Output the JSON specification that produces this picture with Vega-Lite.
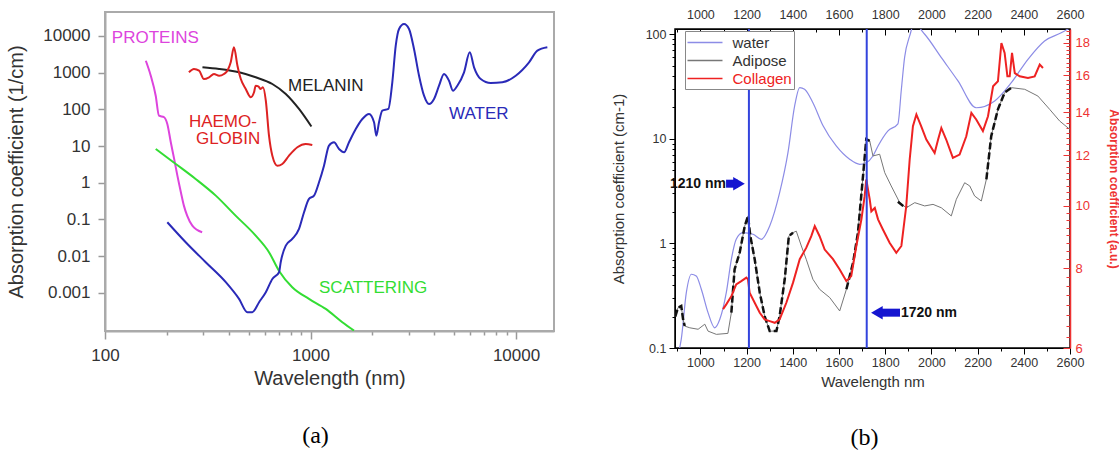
{
  "$schema": "https://vega.github.io/schema/vega-lite/v6.json",
  "padding": {"left": 5, "top": 4, "right": 0, "bottom": 0},
  "background": "white",
  "config": {"font": "Liberation Sans", "axis": {"grid": false}},
  "spacing": 55,
  "datasets": {
    "a": [
      {"s":"P","x":158,"y":2120},{"s":"P","x":167,"y":828},{"s":"P","x":176.5,"y":236},{"s":"P","x":183,"y":67.3},{"s":"P","x":194,"y":61},{"s":"P","x":201,"y":40},{"s":"P","x":209,"y":12.7},{"s":"P","x":217,"y":4.46},{"s":"P","x":225,"y":1.56},{"s":"P","x":234,"y":0.55},{"s":"P","x":242,"y":0.238},{"s":"P","x":251,"y":0.127},{"s":"P","x":266,"y":0.0678},{"s":"P","x":297,"y":0.0448},
      {"s":"M","x":298,"y":1403},{"s":"M","x":359,"y":1262},{"s":"M","x":449,"y":1025},{"s":"M","x":541,"y":750},{"s":"M","x":652,"y":492},{"s":"M","x":758,"y":263},{"s":"M","x":879,"y":102.6},{"s":"M","x":1010,"y":34},
      {"s":"H","x":256,"y":1025},{"s":"H","x":271,"y":1262},{"s":"H","x":287,"y":1134},{"s":"H","x":303,"y":673},{"s":"H","x":321,"y":750},{"s":"H","x":339,"y":922},{"s":"H","x":359,"y":828},{"s":"H","x":379,"y":922},{"s":"H","x":394,"y":1134},{"s":"H","x":409,"y":1920},{"s":"H","x":424,"y":4923},{"s":"H","x":441,"y":1552},{"s":"H","x":458,"y":673},{"s":"H","x":484,"y":360},{"s":"H","x":512,"y":214},{"s":"H","x":531,"y":292},{"s":"H","x":541,"y":443},{"s":"H","x":557,"y":426},{"s":"H","x":572,"y":360},{"s":"H","x":587,"y":400},{"s":"H","x":606,"y":173},{"s":"H","x":628,"y":19.2},{"s":"H","x":652,"y":5.47},{"s":"H","x":690,"y":2.92},{"s":"H","x":729,"y":3.25},{"s":"H","x":786,"y":5.47},{"s":"H","x":863,"y":9.27},{"s":"H","x":948,"y":11.4},{"s":"H","x":1020,"y":10.7},
      {"s":"S","x":176.5,"y":8.34},{"s":"S","x":221,"y":3.25},{"s":"S","x":276,"y":1.27},{"s":"S","x":346,"y":0.446},{"s":"S","x":432,"y":0.127},{"s":"S","x":541,"y":0.0362},{"s":"S","x":628,"y":0.0128},{"s":"S","x":703,"y":0.00395},{"s":"S","x":815,"y":0.00142},{"s":"S","x":983,"y":0.000682},{"s":"S","x":1186,"y":0.000364},{"s":"S","x":1428,"y":0.000158},{"s":"S","x":1628,"y":0.0000933},
      {"s":"W","x":201,"y":0.0839},{"s":"W","x":247,"y":0.0239},{"s":"W","x":309,"y":0.00682},{"s":"W","x":387,"y":0.00195},{"s":"W","x":449,"y":0.000682},{"s":"W","x":493,"y":0.000296},{"s":"W","x":521,"y":0.000296},{"s":"W","x":562,"y":0.000555},{"s":"W","x":606,"y":0.00104},{"s":"W","x":652,"y":0.00239},{"s":"W","x":703,"y":0.00364},{"s":"W","x":716,"y":0.00682},{"s":"W","x":758,"y":0.0193},{"s":"W","x":815,"y":0.0294},{"s":"W","x":879,"y":0.0551},{"s":"W","x":930,"y":0.157},{"s":"W","x":983,"y":0.362},{"s":"W","x":1040,"y":0.446},{"s":"W","x":1100,"y":1.03},{"s":"W","x":1163,"y":2.92},{"s":"W","x":1230,"y":10.3},{"s":"W","x":1301,"y":12.7},{"s":"W","x":1376,"y":8.34},{"s":"W","x":1456,"y":6.78},{"s":"W","x":1539,"y":12.7},{"s":"W","x":1660,"y":29.2},{"s":"W","x":1787,"y":54.7},{"s":"W","x":1927,"y":75},{"s":"W","x":2037,"y":44.6},{"s":"W","x":2091,"y":19.2},{"s":"W","x":2154,"y":44.6},{"s":"W","x":2236,"y":92.2},{"s":"W","x":2391,"y":102.6},{"s":"W","x":2500,"y":547},{"s":"W","x":2598,"y":5445},{"s":"W","x":2696,"y":15520},{"s":"W","x":2851,"y":21230},{"s":"W","x":3015,"y":15520},{"s":"W","x":3188,"y":4424},{"s":"W","x":3373,"y":828},{"s":"W","x":3567,"y":236},{"s":"W","x":3772,"y":140},{"s":"W","x":3990,"y":192},{"s":"W","x":4220,"y":442},{"s":"W","x":4462,"y":922},{"s":"W","x":4720,"y":605},{"s":"W","x":4935,"y":323},{"s":"W","x":5181,"y":442},{"s":"W","x":5585,"y":1025},{"s":"W","x":5954,"y":3597},{"s":"W","x":6247,"y":1403},{"s":"W","x":6733,"y":673},{"s":"W","x":7532,"y":524},{"s":"W","x":8578,"y":547},{"s":"W","x":9965,"y":828},{"s":"W","x":11570,"y":1920},{"s":"W","x":12700,"y":3977},{"s":"W","x":14200,"y":4923}
    ],
    "alab": [
      {"s":"P","t":"PROTEINS","x":108,"y":8820},
      {"s":"M","t":"MELANIN","x":777,"y":443},
      {"s":"H","t":"HAEMO-","x":256,"y":45.4},
      {"s":"H","t":"GLOBIN","x":277,"y":15.6},
      {"s":"S","t":"SCATTERING","x":1100,"y":0.00136},
      {"s":"W","t":"WATER","x":4720,"y":75}
    ],
    "b": [
      {"s":"water","x":910,"y":0.1},{"s":"water","x":917,"y":0.121},{"s":"water","x":939,"y":0.338},{"s":"water","x":961,"y":0.507},{"s":"water","x":982,"y":0.488},{"s":"water","x":1004,"y":0.364},{"s":"water","x":1033,"y":0.218},{"s":"water","x":1062,"y":0.156},{"s":"water","x":1084,"y":0.188},{"s":"water","x":1112,"y":0.338},{"s":"water","x":1134,"y":0.705},{"s":"water","x":1155,"y":1.094},{"s":"water","x":1184,"y":1.266},{"s":"water","x":1228,"y":1.222},{"s":"water","x":1264,"y":1.094},{"s":"water","x":1300,"y":1.466},{"s":"water","x":1343,"y":3.05},{"s":"water","x":1379,"y":7.36},{"s":"water","x":1408,"y":20.6},{"s":"water","x":1430,"y":30.8},{"s":"water","x":1451,"y":29.7},{"s":"water","x":1487,"y":22.1},{"s":"water","x":1531,"y":13.3},{"s":"water","x":1588,"y":8.53},{"s":"water","x":1646,"y":6.37},{"s":"water","x":1690,"y":5.7},{"s":"water","x":1718,"y":5.91},{"s":"water","x":1747,"y":6.85},{"s":"water","x":1769,"y":8.53},{"s":"water","x":1812,"y":11.9},{"s":"water","x":1855,"y":13.9},{"s":"water","x":1870,"y":29.7},{"s":"water","x":1884,"y":60},{"s":"water","x":1906,"y":96.1},{"s":"water","x":1925,"y":125},{"s":"water","x":1971,"y":99.8},{"s":"water","x":2043,"y":59.6},{"s":"water","x":2115,"y":35.7},{"s":"water","x":2194,"y":19.8},{"s":"water","x":2274,"y":23},{"s":"water","x":2346,"y":34.4},{"s":"water","x":2418,"y":57.5},{"s":"water","x":2490,"y":86.1},{"s":"water","x":2562,"y":103},{"s":"water","x":2600,"y":115},
      {"s":"Adipose","x":891,"y":0.2},{"s":"Adipose","x":903,"y":0.243},{"s":"Adipose","x":917,"y":0.252},{"s":"Adipose","x":925,"y":0.188},{"s":"Adipose","x":932,"y":0.162},{"s":"Adipose","x":954,"y":0.156},{"s":"Adipose","x":990,"y":0.151},{"s":"Adipose","x":1019,"y":0.169},{"s":"Adipose","x":1033,"y":0.145},{"s":"Adipose","x":1069,"y":0.135},{"s":"Adipose","x":1119,"y":0.138},{"s":"Adipose","x":1134,"y":0.218},{"s":"Adipose","x":1148,"y":0.565},{"s":"Adipose","x":1170,"y":0.815},{"s":"Adipose","x":1192,"y":1.466},{"s":"Adipose","x":1206,"y":1.83},{"s":"Adipose","x":1216,"y":1.18},{"s":"Adipose","x":1235,"y":0.705},{"s":"Adipose","x":1257,"y":0.338},{"s":"Adipose","x":1278,"y":0.202},{"s":"Adipose","x":1300,"y":0.145},{"s":"Adipose","x":1329,"y":0.145},{"s":"Adipose","x":1343,"y":0.202},{"s":"Adipose","x":1365,"y":0.454},{"s":"Adipose","x":1383,"y":1.18},{"s":"Adipose","x":1401,"y":1.266},{"s":"Adipose","x":1415,"y":1.31},{"s":"Adipose","x":1437,"y":0.944},{"s":"Adipose","x":1458,"y":0.705},{"s":"Adipose","x":1487,"y":0.454},{"s":"Adipose","x":1516,"y":0.364},{"s":"Adipose","x":1560,"y":0.303},{"s":"Adipose","x":1603,"y":0.226},{"s":"Adipose","x":1632,"y":0.364},{"s":"Adipose","x":1661,"y":0.654},{"s":"Adipose","x":1682,"y":1.266},{"s":"Adipose","x":1704,"y":4.41},{"s":"Adipose","x":1718,"y":9.89},{"s":"Adipose","x":1733,"y":9.53},{"s":"Adipose","x":1747,"y":6.85},{"s":"Adipose","x":1776,"y":7.11},{"s":"Adipose","x":1798,"y":4.74},{"s":"Adipose","x":1826,"y":3.54},{"s":"Adipose","x":1863,"y":2.45},{"s":"Adipose","x":1891,"y":2.19},{"s":"Adipose","x":1928,"y":2.45},{"s":"Adipose","x":1971,"y":2.28},{"s":"Adipose","x":2007,"y":2.36},{"s":"Adipose","x":2043,"y":2.19},{"s":"Adipose","x":2086,"y":1.83},{"s":"Adipose","x":2108,"y":2.64},{"s":"Adipose","x":2144,"y":3.8},{"s":"Adipose","x":2166,"y":3.54},{"s":"Adipose","x":2187,"y":2.84},{"s":"Adipose","x":2216,"y":2.54},{"s":"Adipose","x":2238,"y":4.1},{"s":"Adipose","x":2259,"y":10.6},{"s":"Adipose","x":2288,"y":19.1},{"s":"Adipose","x":2317,"y":27.6},{"s":"Adipose","x":2346,"y":30.8},{"s":"Adipose","x":2404,"y":29.7},{"s":"Adipose","x":2461,"y":25.6},{"s":"Adipose","x":2512,"y":19.1},{"s":"Adipose","x":2555,"y":14.8},{"s":"Adipose","x":2599,"y":12.3}
    ],
    "dash": [
      {"g":1,"x":891,"y":0.2},{"g":1,"x":903,"y":0.243},{"g":1,"x":917,"y":0.252},{"g":1,"x":925,"y":0.188},{"g":1,"x":932,"y":0.162},
      {"g":2,"x":1134,"y":0.218},{"g":2,"x":1148,"y":0.565},{"g":2,"x":1170,"y":0.815},{"g":2,"x":1192,"y":1.466},{"g":2,"x":1206,"y":1.83},{"g":2,"x":1216,"y":1.18},{"g":2,"x":1235,"y":0.705},{"g":2,"x":1257,"y":0.338},{"g":2,"x":1278,"y":0.202},{"g":2,"x":1300,"y":0.145},{"g":2,"x":1329,"y":0.145},{"g":2,"x":1343,"y":0.202},{"g":2,"x":1365,"y":0.454},{"g":2,"x":1383,"y":1.18},{"g":2,"x":1401,"y":1.266},
      {"g":3,"x":1632,"y":0.364},{"g":3,"x":1661,"y":0.654},{"g":3,"x":1682,"y":1.266},{"g":3,"x":1704,"y":4.41},{"g":3,"x":1718,"y":9.89},{"g":3,"x":1733,"y":9.53},
      {"g":4,"x":1855,"y":2.5},{"g":4,"x":1875,"y":2.3},{"g":4,"x":1895,"y":2.2},
      {"g":5,"x":2238,"y":4.1},{"g":5,"x":2259,"y":10.6},{"g":5,"x":2288,"y":19.1},{"g":5,"x":2317,"y":27.6},{"g":5,"x":2346,"y":30.8}
    ],
    "col": [
      {"s":"Collagen","x":1098,"y":6.9},{"s":"Collagen","x":1112,"y":7.02},{"s":"Collagen","x":1134,"y":7.23},{"s":"Collagen","x":1155,"y":7.54},{"s":"Collagen","x":1177,"y":7.63},{"s":"Collagen","x":1199,"y":7.73},{"s":"Collagen","x":1206,"y":7.68},{"s":"Collagen","x":1213,"y":7.32},{"s":"Collagen","x":1235,"y":7.06},{"s":"Collagen","x":1257,"y":6.81},{"s":"Collagen","x":1278,"y":6.65},{"s":"Collagen","x":1300,"y":6.61},{"s":"Collagen","x":1322,"y":6.57},{"s":"Collagen","x":1343,"y":6.65},{"s":"Collagen","x":1372,"y":7.06},{"s":"Collagen","x":1401,"y":7.59},{"s":"Collagen","x":1430,"y":8.26},{"s":"Collagen","x":1458,"y":8.6},{"s":"Collagen","x":1480,"y":8.97},{"s":"Collagen","x":1495,"y":9.3},{"s":"Collagen","x":1516,"y":8.97},{"s":"Collagen","x":1538,"y":8.55},{"s":"Collagen","x":1574,"y":8.26},{"s":"Collagen","x":1603,"y":7.96},{"s":"Collagen","x":1632,"y":7.63},{"s":"Collagen","x":1653,"y":7.77},{"s":"Collagen","x":1675,"y":8.66},{"s":"Collagen","x":1697,"y":9.53},{"s":"Collagen","x":1711,"y":10.36},{"s":"Collagen","x":1718,"y":11},{"s":"Collagen","x":1733,"y":10.24},{"s":"Collagen","x":1740,"y":9.81},{"s":"Collagen","x":1755,"y":9.93},{"s":"Collagen","x":1769,"y":9.53},{"s":"Collagen","x":1790,"y":9.19},{"s":"Collagen","x":1819,"y":8.76},{"s":"Collagen","x":1848,"y":8.45},{"s":"Collagen","x":1870,"y":8.66},{"s":"Collagen","x":1891,"y":9.99},{"s":"Collagen","x":1906,"y":11.82},{"s":"Collagen","x":1920,"y":13.32},{"s":"Collagen","x":1935,"y":13.9},{"s":"Collagen","x":1956,"y":13.32},{"s":"Collagen","x":1978,"y":12.7},{"s":"Collagen","x":2014,"y":12.1},{"s":"Collagen","x":2029,"y":12.7},{"s":"Collagen","x":2043,"y":13.24},{"s":"Collagen","x":2064,"y":12.7},{"s":"Collagen","x":2093,"y":11.89},{"s":"Collagen","x":2122,"y":12.03},{"s":"Collagen","x":2151,"y":12.85},{"s":"Collagen","x":2173,"y":13.98},{"s":"Collagen","x":2194,"y":13.65},{"s":"Collagen","x":2223,"y":13.09},{"s":"Collagen","x":2245,"y":13.81},{"s":"Collagen","x":2267,"y":15.38},{"s":"Collagen","x":2288,"y":15.66},{"s":"Collagen","x":2303,"y":17.97},{"s":"Collagen","x":2317,"y":17.34},{"s":"Collagen","x":2329,"y":15.94},{"s":"Collagen","x":2339,"y":15.94},{"s":"Collagen","x":2349,"y":17.34},{"s":"Collagen","x":2361,"y":16.13},{"s":"Collagen","x":2382,"y":15.94},{"s":"Collagen","x":2418,"y":15.85},{"s":"Collagen","x":2447,"y":15.94},{"s":"Collagen","x":2469,"y":16.63},{"s":"Collagen","x":2483,"y":16.43}
    ],
    "vl": [{"x":1210},{"x":1720}],
    "arr": [{"d":"r","x":1111,"x2":1162,"tip":1167,"y":3.72},{"d":"l","x":1777,"x2":1864,"tip":1764,"y":0.2176}],
    "blab": [{"t":"1210 nm","x":868,"y":3.72},{"t":"1720 nm","x":1868,"y":0.2176}]
  },
  "hconcat": [
    {
      "width": 449,
      "height": 319,
      "view": {"stroke": "#aaaaaa", "strokeWidth": 2},
      "title": {"text": "(a)", "orient": "bottom", "frame": "group", "anchor": "middle", "dx": -14, "offset": 36, "font": "Liberation Serif", "fontSize": 24, "fontWeight": "normal", "color": "#000"},
      "encoding": {
        "x": {"field": "x", "type": "quantitative",
          "scale": {"type": "log", "domain": [100, 15300], "nice": false},
          "axis": {"values": [100,200,300,400,500,600,700,800,900,1000,2000,3000,4000,5000,6000,7000,8000,9000,10000],
            "labelExpr": "datum.value == 100 || datum.value == 1000 || datum.value == 10000 ? format(datum.value, 'd') : ''",
            "tickSize": {"condition": {"test": "datum.value == 100 || datum.value == 1000 || datum.value == 10000", "value": 8}, "value": 4},
            "labelFlush": false, "labelOverlap": false, "labelFontSize": 17, "labelColor": "#333", "labelPadding": 8,
            "domainColor": "#aaaaaa", "domainWidth": 2, "tickColor": "#999999", "tickWidth": 1.5,
            "title": "Wavelength (nm)", "titleFontSize": 20, "titleFontWeight": "normal", "titleColor": "#333", "titlePadding": 5}},
        "y": {"field": "y", "type": "quantitative",
          "scale": {"type": "log", "domain": [0.000091, 45100], "nice": false},
          "axis": {"values": [0.001,0.01,0.1,1,10,100,1000,10000],
            "labelExpr": "format(datum.value, '~g')", "labelOverlap": false, "labelFontSize": 17, "labelColor": "#333", "labelPadding": 8,
            "tickSize": 7, "domainColor": "#aaaaaa", "domainWidth": 2, "tickColor": "#999999", "tickWidth": 1.5,
            "title": "Absorption coefficient (1/cm)", "titleFontSize": 20, "titleFontWeight": "normal", "titleColor": "#333", "titlePadding": 16}},
        "color": {"field": "s", "type": "nominal", "scale": {"domain": ["P","M","H","S","W"], "range": ["#dd44dd","#222222","#dd2222","#33dd33","#2a2ab8"]}, "legend": null}
      },
      "layer": [
        {"data": {"name": "a"}, "mark": {"type": "line", "strokeWidth": 2, "clip": true, "interpolate": "monotone"}},
        {"data": {"name": "alab"}, "mark": {"type": "text", "align": "left", "baseline": "middle", "fontSize": 17, "font": "Liberation Sans"}, "encoding": {"text": {"field": "t"}}}
      ]
    },
    {
      "spacing": -10,
      "resolve": {"scale": {"color": "independent"}, "legend": {"color": "independent"}},
      "vconcat": [
        {
          "width": 395,
          "height": 1,
          "view": {"stroke": "#ffffff", "strokeWidth": 1},
          "data": {"values": []},
          "mark": {"type": "point"},
          "encoding": {}
        },
        {
          "width": 395,
          "height": 319,
          "view": {"stroke": "#000000", "strokeWidth": 1.5},
          "title": {"text": "(b)", "orient": "bottom", "frame": "group", "anchor": "middle", "dx": -8, "offset": 36, "font": "Liberation Serif", "fontSize": 24, "fontWeight": "normal", "color": "#000"},
          "layer": [
            {
              "encoding": {
                "x": {"field": "x", "type": "quantitative",
                  "scale": {"domain": [890, 2600], "nice": false, "zero": false},
                  "axis": {"orient": "bottom", "values": [900,1000,1100,1200,1300,1400,1500,1600,1700,1800,1900,2000,2100,2200,2300,2400,2500,2600],
                    "labelExpr": "datum.value % 200 == 0 ? format(datum.value, 'd') : ''",
                    "tickSize": {"condition": {"test": "datum.value % 200 == 0", "value": 6}, "value": 3},
                    "labelFlush": false, "labelOverlap": false, "labelFontSize": 12.5, "labelColor": "#333", "labelPadding": 2,
                    "domainColor": "#000", "tickColor": "#000",
                    "title": "Wavelength nm", "titleFontSize": 15, "titleFontWeight": "normal", "titleColor": "#333", "titlePadding": 6}},
                "y": {"field": "y", "type": "quantitative",
                  "scale": {"type": "log", "domain": [0.1, 112], "nice": false},
                  "axis": {"values": [0.1,0.2,0.3,0.4,0.5,0.6,0.7,0.8,0.9,1,2,3,4,5,6,7,8,9,10,20,30,40,50,60,70,80,90,100],
                    "labelExpr": "datum.value == 0.1 || datum.value == 1 || datum.value == 10 || datum.value == 100 ? format(datum.value, '~g') : ''",
                    "tickSize": {"condition": {"test": "datum.value == 0.1 || datum.value == 1 || datum.value == 10 || datum.value == 100", "value": 6}, "value": 3},
                    "labelOverlap": false, "labelFontSize": 12.5, "labelColor": "#333", "labelPadding": 3,
                    "domainColor": "#000", "tickColor": "#000",
                    "title": "Absorption coefficient (cm-1)", "titleFontSize": 15, "titleFontWeight": "normal", "titleColor": "#333", "titlePadding": 19}}
              },
              "layer": [
                {"data": {"name": "b"}, "transform": [{"filter": "datum.s == 'water'"}], "mark": {"type": "line", "strokeWidth": 1.2, "clip": true, "interpolate": "monotone"},
                 "encoding": {"color": {"field": "s", "type": "nominal", "scale": {"domain": ["water","Adipose","Collagen"], "range": ["#8c8ce6","#777777","#ee2222"]},
                   "legend": {"orient": "none", "legendX": 10, "legendY": 2, "title": null, "symbolType": "M-2,0H2", "symbolSize": 306, "symbolStrokeWidth": 1.5, "symbolOffset": 8.5, "labelFontSize": 15, "labelFont": "Liberation Sans", "labelColor": "#333", "strokeColor": "#888888", "fillColor": "#ffffff", "padding": 2, "rowPadding": 0, "labelOffset": 18,
                     "encode": {"labels": {"update": {"fill": {"signal": "datum.label == 'Collagen' ? '#ee2222' : '#333333'"}}}}}}}},
                {"data": {"name": "b"}, "transform": [{"filter": "datum.s == 'Adipose'"}], "mark": {"type": "line", "strokeWidth": 1, "clip": true},
                 "encoding": {"color": {"field": "s", "type": "nominal"}}},
                {"data": {"name": "dash"}, "mark": {"type": "line", "strokeWidth": 2.5, "strokeDash": [7, 3], "color": "#111111", "clip": true},
                 "encoding": {"detail": {"field": "g", "type": "nominal"}}},
                {"data": {"name": "arr"}, "mark": {"type": "rule", "color": "#1515d0", "strokeWidth": 8}, "encoding": {"x2": {"field": "x2"}}},
                {"data": {"name": "arr"}, "mark": {"type": "point", "filled": true, "color": "#1515d0", "opacity": 1, "size": 180}, "encoding": {"x": {"field": "tip", "type": "quantitative"}, "shape": {"field": "d", "type": "nominal", "scale": {"domain": ["r","l"], "range": ["triangle-right","triangle-left"]}, "legend": null}}},
                {"data": {"name": "blab"}, "mark": {"type": "text", "align": "left", "baseline": "middle", "fontSize": 14, "fontWeight": "bold", "color": "#111111"}, "encoding": {"text": {"field": "t"}}}
              ]
            },
            {
              "data": {"name": "col"},
              "mark": {"type": "line", "strokeWidth": 2, "clip": true},
              "encoding": {
                "x": {"field": "x", "type": "quantitative",
                  "scale": {"domain": [890, 2600], "nice": false, "zero": false},
                  "axis": {"orient": "top", "values": [900,1000,1100,1200,1300,1400,1500,1600,1700,1800,1900,2000,2100,2200,2300,2400,2500,2600],
                    "labelExpr": "datum.value % 200 == 0 ? format(datum.value, 'd') : ''",
                    "tickSize": {"condition": {"test": "datum.value % 200 == 0", "value": -6}, "value": -3},
                    "labelFlush": false, "labelOverlap": false, "labelFontSize": 12.5, "labelColor": "#333", "labelPadding": 14,
                    "domainColor": "#000", "tickColor": "#000", "title": null}},
                "y": {"field": "y", "type": "quantitative",
                  "scale": {"type": "log", "domain": [6, 18.9], "nice": false},
                  "axis": {"orient": "right", "values": [6,6.25,6.5,6.75,7,7.25,7.5,7.75,8,8.25,8.5,8.75,9,9.25,9.5,9.75,10,10.25,10.5,10.75,11,11.25,11.5,11.75,12,12.25,12.5,12.75,13,13.25,13.5,13.75,14,14.25,14.5,14.75,15,15.25,15.5,15.75,16,16.25,16.5,16.75,17,17.25,17.5,17.75,18,18.25,18.5,18.75],
                    "labelExpr": "datum.value % 2 == 0 ? format(datum.value, 'd') : ''",
                    "tickSize": {"condition": {"test": "datum.value % 2 == 0", "value": -7}, "value": -4},
                    "labelOverlap": false, "labelFontSize": 13, "labelColor": "#ee3333", "labelPadding": 12,
                    "domainColor": "#ee3333", "domainWidth": 1.5, "tickColor": "#ee3333",
                    "title": "Absorption coefficient (a.u.)", "titleFontSize": 12, "titleFontWeight": "bold", "titleColor": "#ee3333", "titlePadding": 17}},
                "color": {"field": "s", "type": "nominal"}
              }
            },
            {
              "data": {"name": "vl"},
              "mark": {"type": "rule", "color": "#3344dd", "strokeWidth": 2},
              "encoding": {"x": {"field": "x", "type": "quantitative", "axis": null}}
            }
          ],
          "resolve": {"scale": {"y": "independent"}, "axis": {"x": "independent"}}
        }
      ]
    }
  ],
  "resolve": {"scale": {"color": "independent"}, "legend": {"color": "independent"}}
}
